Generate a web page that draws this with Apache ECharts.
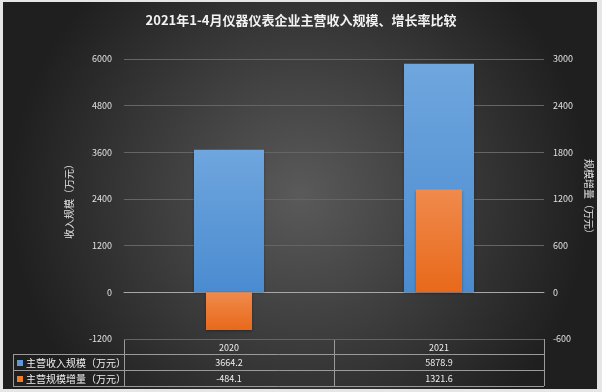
<!DOCTYPE html>
<html><head><meta charset="utf-8">
<script src="https://cdn.jsdelivr.net/npm/echarts@6/dist/echarts.min.js"></script>
<style>html,body{margin:0;padding:0;background:#e6e6e6;}#c{width:602px;height:392px;}</style>
</head><body><div id="c"></div>
<script>
var title = '2021年1-4月仪器仪表企业主营收入规模、增长率比较';
var categories = ['2020', '2021'];
var seriesNames = ['主营收入规模（万元）', '主营规模增量（万元）'];
var revenue = [3664.2, 5878.9];
var increment = [-484.1, 1321.6];
var leftTicks = [-1200, 0, 1200, 2400, 3600, 4800, 6000];
var rightTicks = [-600, 0, 600, 1200, 1800, 2400, 3000];
var leftName = '收入规模（万元）';
var rightName = '规模增量（万元）';

var F = '"Noto Sans CJK SC","Noto Sans",sans-serif';
var GL = 124, GR = 544, GT = 59, GB = 339;
var chart = echarts.init(document.getElementById('c'));

function fmt(v){ return v.toFixed(1); }
var graphics = [];
graphics.push({type:'rect', z:-10, silent:true, shape:{x:3,y:2,width:594,height:387},
  style:{fill:{type:'radial',x:0.5,y:0.5,r:0.75,colorStops:[{offset:0,color:'#5a5a5a'},{offset:1,color:'#1f1f1f'}]}}});
var rowY = [GB, 354, 370, 386];
var colX = [GL, GL + (GR-GL)/2, GR];
var lc = '#9a9a9a';
function line(x1,y1,x2,y2){ graphics.push({type:'line', silent:true, shape:{x1:x1,y1:y1,x2:x2,y2:y2}, style:{stroke:lc,lineWidth:1}}); }
line(GL, rowY[0]+0.5, GR, rowY[0]+0.5);
line(13, rowY[1]+0.5, GR, rowY[1]+0.5);
line(13, rowY[2]+0.5, GR, rowY[2]+0.5);
line(13, rowY[3]+0.5, GR, rowY[3]+0.5);
line(GL+0.5, rowY[0], GL+0.5, rowY[3]);
line(colX[1]+0.5, rowY[0], colX[1]+0.5, rowY[3]);
line(GR+0.5, rowY[0], GR+0.5, rowY[3]);
line(13.5, rowY[1], 13.5, rowY[3]);
var colors = ['#5b9bd5', '#ed7d31'];
var rows = [revenue, increment];
categories.forEach(function(c,i){
  graphics.push({type:'text', silent:true, x:(colX[i]+colX[i+1])/2, y:(rowY[0]+rowY[1])/2+1,
    style:{text:c, fill:'#eeeeee', font:'9px '+F, align:'center', verticalAlign:'middle'}});
});
rows.forEach(function(r,j){
  var cy = (rowY[j+1]+rowY[j+2])/2+1;
  graphics.push({type:'rect', silent:true, shape:{x:17,y:cy-3,width:6,height:6}, style:{fill:colors[j]}});
  graphics.push({type:'text', silent:true, x:26, y:cy, style:{text:seriesNames[j], fill:'#eeeeee', font:'10px '+F, align:'left', verticalAlign:'middle'}});
  r.forEach(function(v,i){
    graphics.push({type:'text', silent:true, x:(colX[i]+colX[i+1])/2, y:cy,
      style:{text:fmt(v), fill:'#eeeeee', font:'9px '+F, align:'center', verticalAlign:'middle'}});
  });
});

chart.setOption({
  backgroundColor:'#e6e6e6',
  animation:false,
  textStyle:{fontFamily:F},
  title:{text:title, left:'center', top:9, textStyle:{color:'#f2f2f2', fontSize:13, fontWeight:'bold', fontFamily:F}},
  grid:{left:GL, right:602-GR, top:GT, bottom:392-GB},
  graphic:graphics,
  xAxis:[
    {type:'category', data:categories, axisLine:{show:true, onZero:true, lineStyle:{color:'#a8a8a8'}}, axisTick:{show:false}, axisLabel:{show:false}},
    {type:'category', data:categories, show:false, position:'bottom', axisLine:{show:false}}
  ],
  yAxis:[
    {type:'value', min:leftTicks[0], max:leftTicks[leftTicks.length-1], interval:1200,
     name:leftName, nameLocation:'middle', nameGap:50, nameRotate:90,
     nameTextStyle:{color:'#e0e0e0', fontSize:10, fontFamily:F},
     axisLine:{show:false}, axisTick:{show:false},
     axisLabel:{color:'#e0e0e0', fontSize:9, margin:12, fontFamily:F, formatter:function(v){return String(v);}},
     splitLine:{show:true, lineStyle:{color:'#656565', width:1}}},
    {type:'value', min:rightTicks[0], max:rightTicks[rightTicks.length-1], interval:600,
     name:rightName, nameLocation:'middle', nameGap:38, nameRotate:-90,
     nameTextStyle:{color:'#e0e0e0', fontSize:10, fontFamily:F},
     axisLine:{show:false}, axisTick:{show:false},
     axisLabel:{color:'#e0e0e0', fontSize:9, margin:9, fontFamily:F, formatter:function(v){return String(v);}},
     splitLine:{show:false}}
  ],
  series:[
    {name:seriesNames[0], type:'bar', xAxisIndex:0, yAxisIndex:0, data:revenue, barWidth:70,
     itemStyle:{color:{type:'linear',x:0,y:0,x2:0,y2:1,colorStops:[{offset:0,color:'#6fa6de'},{offset:1,color:'#4a8bd0'}]},
       shadowColor:'rgba(0,0,0,0.35)', shadowBlur:3, shadowOffsetY:1}},
    {name:seriesNames[1], type:'bar', xAxisIndex:1, yAxisIndex:1, data:increment, barWidth:46,
     itemStyle:{color:{type:'linear',x:0,y:0,x2:0,y2:1,colorStops:[{offset:0,color:'#f08a4c'},{offset:1,color:'#e8691a'}]},
       shadowColor:'rgba(0,0,0,0.35)', shadowBlur:3, shadowOffsetY:1}}
  ]
});
</script></body></html>
